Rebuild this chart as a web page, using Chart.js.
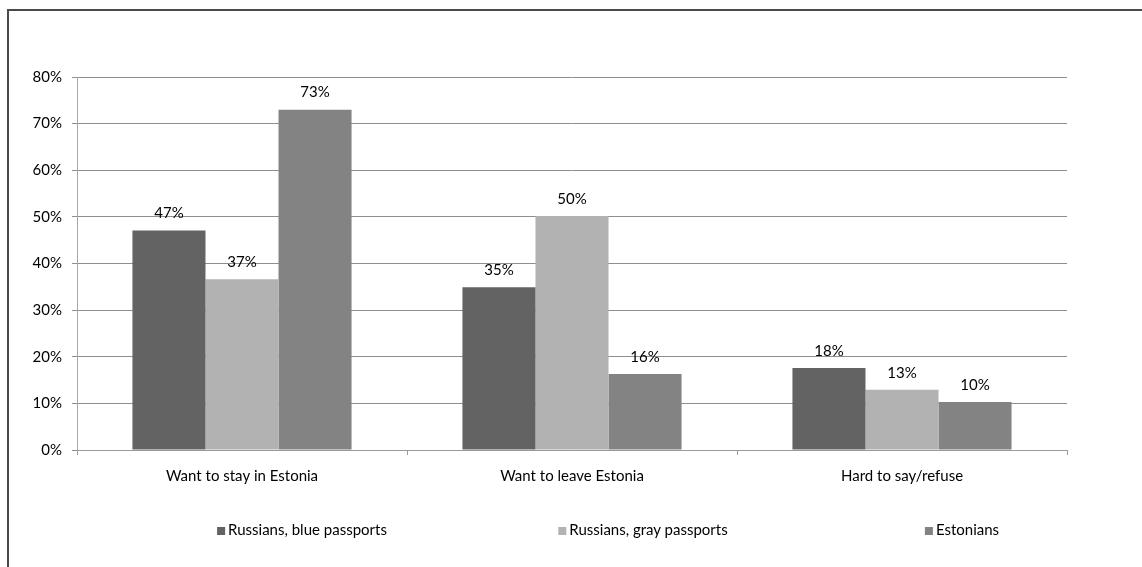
<!DOCTYPE html>
<html>
<head>
<meta charset="utf-8">
<script src="https://cdn.jsdelivr.net/npm/chart.js@4"></script>
<style>
  html, body { margin: 0; padding: 0; background: #fff; }
  #wrap { position: relative; width: 1142px; height: 567px; overflow: hidden; font-family: Lato, "Open Sans", sans-serif; }
  #frame { position: absolute; left: 7px; top: 9px; width: 1200px; height: 600px; border-left: 2px solid #4a4a4a; border-top: 2px solid #4a4a4a; }
  canvas { position: absolute; left: 0; top: 0; }
  #legend { position: absolute; top: 520px; left: 0; width: 1142px; height: 20px; font-size: 15px; color: #000; }
  #legend span.item { position: absolute; white-space: nowrap; transform: translateX(-50%); }
  #legend i { display: inline-block; width: 8px; height: 8px; margin-right: 3px; vertical-align: 0px; }
</style>
</head>
<body>
<div id="wrap">
  <div id="frame"></div>
  <canvas id="chart" width="1142" height="567"></canvas>
  <div id="legend"></div>
</div>
<script>
const categories = ["Want to stay in Estonia", "Want to leave Estonia", "Hard to say/refuse"];
const seriesNames = ["Russians, blue passports", "Russians, gray passports", "Estonians"];
const blueValues = [47.1, 34.9, 17.6];
const grayValues = [36.6, 50.2, 12.9];
const estonianValues = [73.0, 16.3, 10.3];
const seriesColors = ["#636363", "#b2b2b2", "#838383"];
const legendCenters = [302, 643, 962];

const FONT = "Lato, 'Open Sans', sans-serif";

const valueLabels = {
  id: "valueLabels",
  afterDatasetsDraw(chart) {
    const ctx = chart.ctx;
    ctx.save();
    ctx.font = "15px " + FONT;
    ctx.fillStyle = "#000";
    ctx.textAlign = "center";
    ctx.textBaseline = "middle";
    chart.data.datasets.forEach((ds, i) => {
      chart.getDatasetMeta(i).data.forEach((bar, j) => {
        ctx.fillText(Math.round(ds.data[j]) + "%", bar.x, bar.y - 17);
      });
    });
    ctx.restore();
  }
};

const allValues = [blueValues, grayValues, estonianValues];

new Chart(document.getElementById("chart").getContext("2d"), {
  type: "bar",
  data: {
    labels: categories,
    datasets: seriesNames.map((name, i) => ({
      label: name,
      data: allValues[i],
      backgroundColor: seriesColors[i],
      borderWidth: 0,
      barPercentage: 1,
      categoryPercentage: 0.664
    }))
  },
  options: {
    responsive: false,
    animation: false,
    layout: { padding: { left: 20, right: 75, top: 77, bottom: 0 } },
    plugins: { legend: { display: false }, tooltip: { enabled: false } },
    scales: {
      x: {
        afterFit: (scale) => { scale.height = 117; },
        grid: { drawOnChartArea: false, drawTicks: true, tickLength: 5, color: "#9a9a9a" },
        border: { color: "#9a9a9a" },
        ticks: { color: "#000", font: { size: 15, family: FONT }, padding: 12 }
      },
      y: {
        min: 0,
        max: 80,
        afterFit: (scale) => { scale.width = 57; },
        grid: { color: "#8e8e8e", tickLength: 5 },
        border: { color: "#a8a8a8" },
        ticks: {
          stepSize: 10,
          color: "#000",
          padding: 10,
          font: { size: 15, family: FONT },
          callback: (value) => value + "%"
        }
      }
    }
  },
  plugins: [valueLabels]
});

const legend = document.getElementById("legend");
seriesNames.forEach((name, i) => {
  const item = document.createElement("span");
  item.className = "item";
  item.style.left = legendCenters[i] + "px";
  item.innerHTML = '<i style="background:' + seriesColors[i] + '"></i>' + name;
  legend.appendChild(item);
});
</script>
</body>
</html>
